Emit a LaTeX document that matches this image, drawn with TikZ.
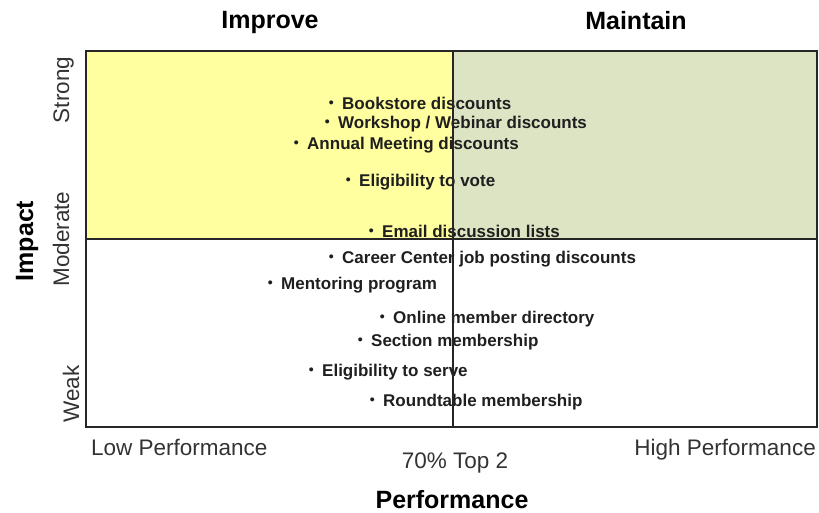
\documentclass[tikz,border=0pt]{standalone}
\usepackage{fontspec}
\setmainfont{Liberation Sans}
\definecolor{improveyellow}{HTML}{FFFF9F}
\definecolor{maintaingreen}{HTML}{DCE4C4}
\definecolor{txtgray}{HTML}{333333}
\newcommand{\itmdot}{\raisebox{1.5pt}{\fontsize{14}{14}\selectfont\textbullet}\hspace{8.5pt}}
\begin{document}
\begin{tikzpicture}[x=1pt, y=-1pt,
	itm/.style={anchor=base west, inner sep=0pt, font=\fontsize{17}{20}\selectfont\bfseries, text=black!88},
	ttl/.style={anchor=base, inner sep=0pt, font=\fontsize{25}{30}\selectfont\bfseries},
	lbl/.style={inner sep=0pt, font=\fontsize{22.5}{27}\selectfont, text=txtgray},
	ylbl/.style={lbl, anchor=base, rotate=90}]
	\useasboundingbox (0, 0) rectangle (819, 512);
	\fill[improveyellow] (86, 51) rectangle (453, 239);
	\fill[maintaingreen] (453, 51) rectangle (817, 239);
	% items
	\node[itm] (bookstore) at (328.6, 109) {\itmdot Bookstore discounts};
	\node[itm] (workshop) at (324.6, 128) {\itmdot Workshop / Webinar discounts};
	\node[itm] (annual) at (293.6, 149) {\itmdot Annual Meeting discounts};
	\node[itm] (vote) at (345.6, 186) {\itmdot Eligibility to vote};
	\node[itm] (email) at (368.6, 237) {\itmdot Email discussion lists};
	\node[itm] (career) at (328.6, 263) {\itmdot Career Center job posting discounts};
	\node[itm] (mentor) at (267.6, 289) {\itmdot Mentoring program};
	\node[itm] (online) at (379.6, 323) {\itmdot Online member directory};
	\node[itm] (section) at (357.6, 346) {\itmdot Section membership};
	\node[itm] (serve) at (308.6, 376) {\itmdot Eligibility to serve};
	\node[itm] (round) at (369.6, 406) {\itmdot Roundtable membership};
	% grid
	\draw[line width=2pt, black!85] (453, 51) -- (453, 427);
	\draw[line width=2pt, black!85] (86, 239) -- (817, 239);
	\draw[line width=2.8pt, black!85] (86, 51) rectangle (817, 427);
	% labels
	\node[ttl] (improve) at (270, 28) {Improve};
	\node[ttl] (maintain) at (636, 29) {Maintain};
	\node[ttl, rotate=90] (impact) at (33, 241) {Impact};
	\node[ttl] (perf) at (452, 508) {Performance};
	\node[ylbl] (strong) at (69, 90) {Strong};
	\node[ylbl] (moderate) at (69, 239) {Moderate};
	\node[ylbl] (weak) at (79, 394) {Weak};
	\node[lbl, anchor=base west] (low) at (91, 455) {Low Performance};
	\node[lbl, anchor=base east] (high) at (816, 455) {High Performance};
	\node[lbl, anchor=base] (top2) at (455, 468) {70\% Top 2};
\end{tikzpicture}
\end{document}
